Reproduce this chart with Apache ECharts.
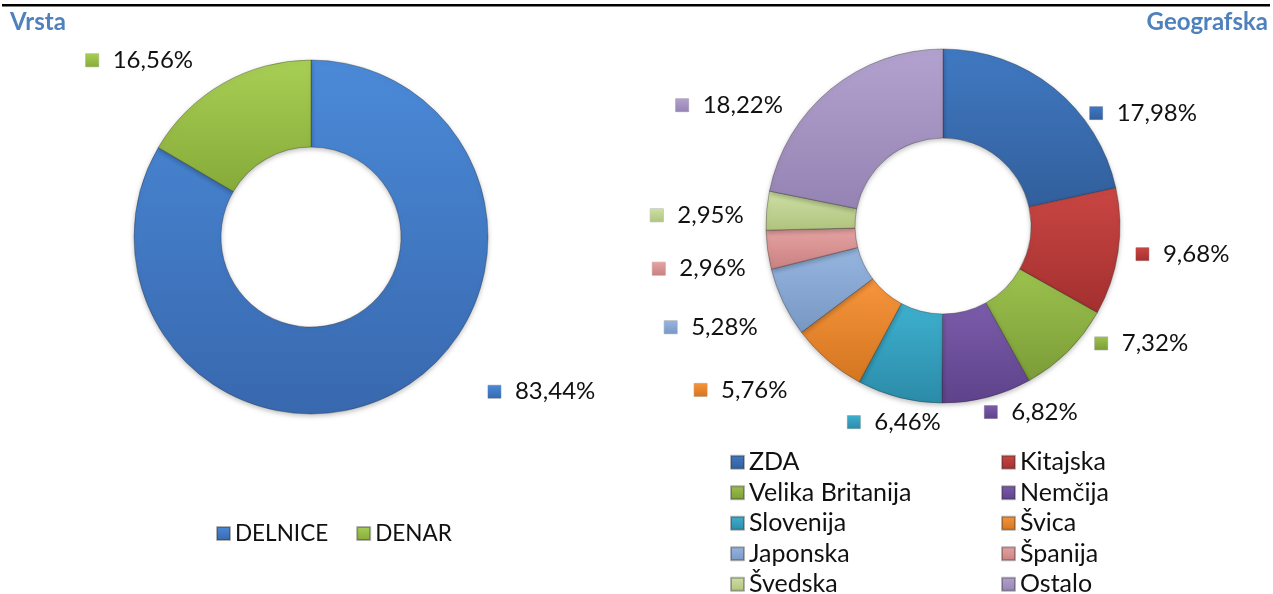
<!DOCTYPE html>
<html style="height: 100%">
<head>
<meta charset="utf-8">
<script src="https://cdn.jsdelivr.net/npm/echarts@6/dist/echarts.min.js"></script>
</head>
<body style="width:1273px;height:594px;margin:0;background:#fff">
<div id="container" style="width:1273px;height:594px;"></div>
<script type="text/javascript">
// podatki
var vrstaNames = ['DELNICE', 'DENAR'];
var vrstaValues = [83.44, 16.56];
var geoNames = ['ZDA', 'Kitajska', 'Velika Britanija', 'Nemčija', 'Slovenija', 'Švica', 'Japonska', 'Španija', 'Švedska', 'Ostalo'];
var geoValues = [17.98, 9.68, 7.32, 6.82, 6.46, 5.76, 5.28, 2.96, 2.95, 18.22];

var vrstaColors = [['#4b8ad8', '#3868ae'], ['#a8cf55', '#86aa38']];
var geoColors = [
    ['#4079c2', '#325f9c'], ['#c94643', '#a3302f'], ['#9cc24e', '#7b9c37'],
    ['#7b5cab', '#5e428a'], ['#3eb0cf', '#2b8ba8'], ['#f6953c', '#d47520'],
    ['#96b6e0', '#7898c4'], ['#e6a4a3', '#c98080'], ['#cfe0a4', '#afc37e'],
    ['#b3a2cf', '#9583b3']
];

// premiki oznak (kot v Excelu)
var vrstaNudge = [[77, -11], [-18, -11]];
var geoNudge = [[22, 36], [-1, 0], [12, -18], [-11, 1], [50, 11], [-26, 19], [-8, 19], [-3, 17], [-4, 6], [-34, 27]];

var FONT = 'Lato, "Open Sans", sans-serif';

function grad(c) {
    return new echarts.graphic.LinearGradient(0, 0, 0, 1, [
        {offset: 0, color: c[0]}, {offset: 1, color: c[1]}
    ]);
}
function pct(v) {
    return v.toFixed(2).replace('.', ',') + '%';
}
function buildData(names, values, colors) {
    return names.map(function (n, i) {
        return {
            name: n,
            value: values[i],
            itemStyle: {color: grad(colors[i])},
            label: {
                formatter: '{i|}{t|' + pct(values[i]) + '}',
                rich: {
                    i: {width: 13, height: 13, backgroundColor: grad(colors[i]),
                        borderColor: 'rgba(0,0,0,0.25)', borderWidth: 0.5},
                    t: {fontSize: 24, fontFamily: FONT, color: '#111', padding: [0, 0, 0, 14]}
                }
            }
        };
    });
}
function nudge(arr) {
    return function (p) {
        var n = arr[p.dataIndex];
        return {dx: n[0], dy: n[1]};
    };
}

var dom = document.getElementById('container');
var myChart = echarts.init(dom);
var option = {
    animation: false,
    graphic: [
        {type: 'rect', shape: {x: 2, y: 4, width: 1268, height: 2.5}, style: {fill: '#000'}},
        {type: 'text', left: 10, top: 10, style: {text: 'Vrsta', font: 'bold 24px ' + FONT, fill: '#4f81bd'}},
        {type: 'text', right: 5, top: 10, style: {text: 'Geografska', font: 'bold 24px ' + FONT, fill: '#4f81bd'}}
    ],
    legend: [
        {
            data: vrstaNames,
            left: 211, top: 517,
            itemWidth: 13, itemHeight: 13, itemGap: 28,
            icon: 'rect',
            textStyle: {fontSize: 22.5, fontFamily: FONT, color: '#111'}
        },
        {
            data: geoNames,
            left: 725, top: 442, width: 545,
            orient: 'horizontal',
            itemWidth: 13, itemHeight: 13, itemGap: 0,
            icon: 'rect',
            textStyle: {fontSize: 25, fontFamily: FONT, color: '#111', width: 252, lineHeight: 30.5}
        }
    ],
    series: [
        {
            type: 'pie',
            center: [311, 237],
            radius: [90, 177],
            startAngle: 90,
            avoidLabelOverlap: false,
            itemStyle: {borderColor: 'rgba(40,40,40,0.35)', borderWidth: 1,
                shadowBlur: 5, shadowColor: 'rgba(0,0,0,0.25)', shadowOffsetY: 2},
            label: {position: 'outside'},
            labelLine: {show: false, length: 14, length2: 0},
            labelLayout: nudge(vrstaNudge),
            data: buildData(vrstaNames, vrstaValues, vrstaColors)
        },
        {
            type: 'pie',
            center: [943, 226],
            radius: [88, 177],
            startAngle: 90,
            avoidLabelOverlap: false,
            itemStyle: {borderColor: 'rgba(40,40,40,0.35)', borderWidth: 1,
                shadowBlur: 5, shadowColor: 'rgba(0,0,0,0.25)', shadowOffsetY: 2},
            label: {position: 'outside'},
            labelLine: {show: false, length: 14, length2: 0},
            labelLayout: nudge(geoNudge),
            data: buildData(geoNames, geoValues, geoColors)
        }
    ]
};
myChart.setOption(option, true);
</script>
</body>
</html>
